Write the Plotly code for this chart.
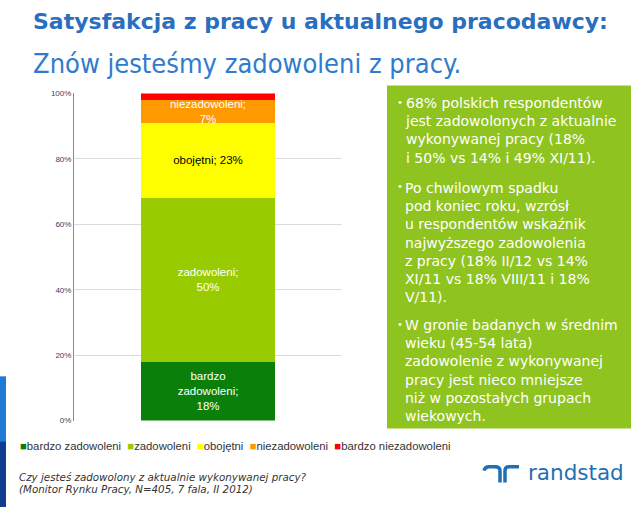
import plotly.graph_objects as go

# ---- data ----
categories = ["II 2012"]
series_names = ["bardzo zadowoleni", "zadowoleni", "obojętni", "niezadowoleni", "bardzo niezadowoleni"]
series_values = [18, 50, 23, 7, 2]
bar_labels = ["bardzo<br>zadowoleni;<br>18%", "zadowoleni;<br>50%", "obojętni; 23%", "niezadowoleni;<br>7%", ""]
series_colors = ["#0a7f0a", "#99cc00", "#ffff00", "#ff9900", "#ff0000"]
label_colors = ["white", "white", "black", "white", "white"]
y_ticks = [0, 20, 40, 60, 80, 100]
y_tick_labels = ["0%", "20%", "40%", "60%", "80%", "100%"]

title_text = "Satysfakcja z pracy u aktualnego pracodawcy:"
subtitle_text = "Znów jesteśmy zadowoleni z pracy."
bullets = [
    ["68% polskich respondentów", "jest zadowolonych z aktualnie", "wykonywanej pracy (18%", "i 50% vs 14% i 49% XI/11)."],
    ["Po chwilowym spadku", "pod koniec roku, wzrósł", "u respondentów wskaźnik", "najwyższego zadowolenia",
     "z pracy (18% II/12 vs 14%", "XI/11 vs 18% VIII/11 i 18%", "V/11)."],
    ["W gronie badanych w średnim", "wieku (45-54 lata)", "zadowolenie z wykonywanej", "pracy jest nieco mniejsze",
     "niż w pozostałych grupach", "wiekowych."],
]
footnote_lines = ["Czy jesteś zadowolony z aktualnie wykonywanej pracy?", "(Monitor Rynku Pracy, N=405, 7 fala, II 2012)"]

W, H = 640, 512


def px(x):
    return x / W


def py(y):
    return 1 - y / H


fig = go.Figure()
for name, val, lab, col, lcol in zip(series_names, series_values, bar_labels, series_colors, label_colors):
    fig.add_trace(go.Bar(
        x=categories, y=[val], name=name, marker=dict(color=col, line=dict(width=0)),
        text=[lab], textposition="inside", insidetextanchor="middle", constraintext="none",
        textfont=dict(color=lcol, size=11.5, family="Liberation Sans, Arial, sans-serif"),
        width=0.5, hoverinfo="name+y", showlegend=False,
    ))

shapes = [
    # green text box
    dict(type="rect", xref="paper", yref="paper", x0=px(387), x1=px(631), y0=py(432), y1=py(83),
         fillcolor="#8fc31f", line=dict(width=0), layer="below"),
    # left blue stripe
    dict(type="rect", xref="paper", yref="paper", x0=0, x1=px(6), y0=py(445), y1=py(379),
         fillcolor="#1f7ad8", line=dict(width=0)),
    dict(type="rect", xref="paper", yref="paper", x0=0, x1=px(6), y0=0, y1=py(445),
         fillcolor="#0e3d8f", line=dict(width=0)),
]

annotations = [
    dict(text="<b>" + title_text + "</b>", x=px(31), y=py(18), xref="paper", yref="paper",
         xanchor="left", yanchor="middle", showarrow=False,
         font=dict(family="DejaVu Sans, Verdana, sans-serif", size=22, color="#2a6fbf")),
    dict(text=subtitle_text, x=px(31), y=py(61), xref="paper", yref="paper",
         xanchor="left", yanchor="middle", showarrow=False,
         font=dict(family="DejaVu Sans Condensed, sans-serif", size=27, color="#2f7bcc")),
]

# bullets
bullet_centers = [100, 186, 326]
for lines, c in zip(bullets, bullet_centers):
    top = c - 9
    annotations.append(dict(text="•", x=px(395), y=py(c), xref="paper", yref="paper",
                            xanchor="left", yanchor="middle", showarrow=False,
                            font=dict(family="DejaVu Sans, sans-serif", size=10, color="#f4f8e8")))
    annotations.append(dict(text="<br>".join(lines), x=px(403), y=py(top), xref="paper", yref="paper",
                            xanchor="left", yanchor="top", align="left", showarrow=False,
                            font=dict(family="DejaVu Sans, Verdana, sans-serif", size=14, color="white")))

# legend line
legend_parts = []
for name, col in zip(series_names, series_colors):
    legend_parts.append('<span style="color:%s">■</span>%s' % (col, name))
annotations.append(dict(text="  ".join(legend_parts), x=px(18), y=py(450), xref="paper", yref="paper",
                        xanchor="left", yanchor="middle", showarrow=False,
                        font=dict(family="Liberation Sans, Arial, sans-serif", size=11.3, color="#333333")))

# footnote
for line, c in zip(footnote_lines, [481, 494]):
    annotations.append(dict(text="<i>" + line + "</i>", x=px(17), y=py(c), xref="paper", yref="paper",
                            xanchor="left", yanchor="middle", align="left", showarrow=False,
                            font=dict(family="DejaVu Sans, Verdana, sans-serif", size=10.3, color="#333333")))

# randstad logo
annotations.append(dict(text="randstad", x=px(526), y=py(477), xref="paper", yref="paper",
                        xanchor="left", yanchor="middle", showarrow=False,
                        font=dict(family="DejaVu Sans, Verdana, sans-serif", size=21.5, color="#1f6fb5")))
shapes.append(dict(type="path", xref="paper", yref="paper",
                   path="M %f %f Q %f %f %f %f L %f %f Q %f %f %f %f L %f %f" % (
                       px(484), py(475), px(485), py(471), px(489), py(471),
                       px(495), py(471), px(500), py(471), px(500), py(475), px(500), py(487)),
                   line=dict(color="#1f6fb5", width=3.5)))
shapes.append(dict(type="path", xref="paper", yref="paper",
                   path="M %f %f L %f %f Q %f %f %f %f L %f %f" % (
                       px(505), py(487), px(505), py(475), px(505), py(471), px(509), py(471), px(519), py(471)),
                   line=dict(color="#1f6fb5", width=3.5)))

fig.update_layout(
    width=W, height=H, barmode="stack",
    margin=dict(l=0, r=0, t=0, b=0),
    paper_bgcolor="white", plot_bgcolor="white",
    xaxis=dict(domain=[px(74), px(342)], showticklabels=False, showgrid=False, zeroline=False,
               showline=False, range=[-0.5, 0.5]),
    yaxis=dict(domain=[py(424), py(91)], range=[0, 100], tickvals=y_ticks, ticktext=y_tick_labels,
               showgrid=True, gridcolor="#dcdcdc", gridwidth=1, zeroline=False,
               showline=True, linecolor="#8a8a8a", linewidth=1, ticks="",
               tickfont=dict(family="Liberation Sans, Arial, sans-serif", size=8, color="#3a3a6a")),
    shapes=shapes, annotations=annotations,
)

fig.write_html("out.html", config={"displayModeBar": False},
               post_script="document.body.style.margin='0';document.body.style.overflow='hidden';")
